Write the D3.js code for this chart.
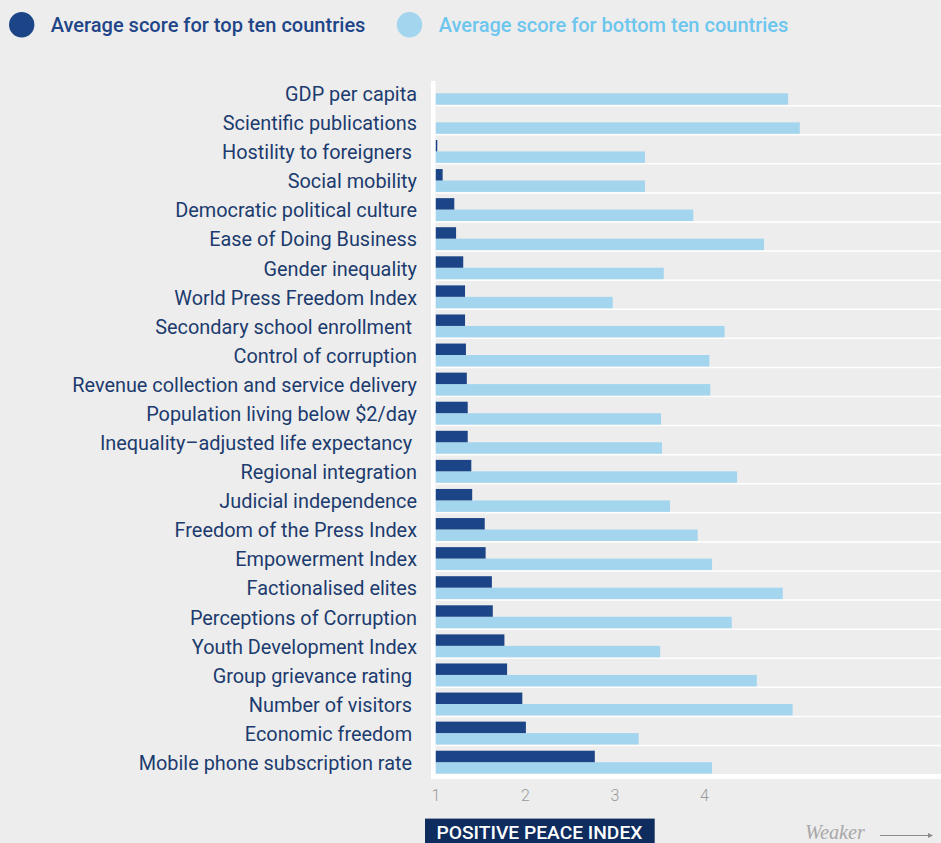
<!DOCTYPE html>
<html>
<head>
<meta charset="utf-8">
<script src="https://cdn.jsdelivr.net/npm/d3@7"></script>
<style>
  html, body { margin: 0; padding: 0; background: #ededed; }
  svg { display: block; }
  .lbl { white-space: pre; }
</style>
</head>
<body>
<svg id="chart" width="941" height="843"></svg>
<script>
const categories = [
  "GDP per capita",
  "Scientific publications",
  "Hostility to foreigners ",
  "Social mobility",
  "Democratic political culture",
  "Ease of Doing Business",
  "Gender inequality",
  "World Press Freedom Index",
  "Secondary school enrollment ",
  "Control of corruption",
  "Revenue collection and service delivery",
  "Population living below $2/day",
  "Inequality\u2013adjusted life expectancy ",
  "Regional integration",
  "Judicial independence",
  "Freedom of the Press Index",
  "Empowerment Index",
  "Factionalised elites",
  "Perceptions of Corruption",
  "Youth Development Index",
  "Group grievance rating ",
  "Number of visitors ",
  "Economic freedom ",
  "Mobile phone subscription rate "
];
const topTen = [1.0, 1.0, 1.02, 1.08, 1.21, 1.23, 1.31, 1.33, 1.33, 1.34, 1.35, 1.36,
                1.36, 1.40, 1.41, 1.55, 1.56, 1.63, 1.64, 1.77, 1.80, 1.97, 2.01, 2.78];
const bottomTen = [4.94, 5.07, 3.34, 3.34, 3.88, 4.67, 3.55, 2.98, 4.23, 4.06, 4.07, 3.52,
                   3.53, 4.37, 3.62, 3.93, 4.09, 4.88, 4.31, 3.51, 4.59, 4.99, 3.27, 4.09];
const tickValues = [1, 2, 3, 4];
const seriesNames = ["Average score for top ten countries", "Average score for bottom ten countries"];
const axisTitle = "POSITIVE PEACE INDEX";
const directionLabel = "Weaker";

const colors = { top: "#1c4587", bottom: "#a4d5ee", legendTop: "#1f4588", legendBottom: "#6cc6ee",
                 label: "#1c3b6e", tick: "#9a9a9a", box: "#0e2c5e" };

const svg = d3.select("#chart");
svg.append("rect").attr("width", 941).attr("height", 843).attr("fill", "#ededed");

const x = d3.scaleLinear().domain([1, 5]).range([435.5, 793.5]);
const y = d3.scaleBand().domain(categories).range([76, 774]);
const sub = d3.scaleBand().domain(["top", "bottom"]).range([5.8, 28.7]);

function fit(sel, target) {
  const w = sel.node().getComputedTextLength();
  const fs = parseFloat(sel.attr("font-size"));
  sel.attr("font-size", fs * target / w);
}

// legend
const legend = [
  { name: seriesNames[0], cx: 21.7, tx: 50.7, w: 315, c: colors.top, tc: colors.legendTop },
  { name: seriesNames[1], cx: 409.5, tx: 438.7, w: 350, c: colors.bottom, tc: colors.legendBottom }
];
legend.forEach(l => {
  svg.append("circle").attr("cx", l.cx).attr("cy", 24.8).attr("r", 12.7).attr("fill", l.c);
  const t = svg.append("text").attr("x", l.tx).attr("y", 31.6)
    .attr("font-family", "Roboto, sans-serif").attr("font-weight", 500)
    .attr("font-size", 19).attr("fill", l.tc).text(l.name);
  fit(t, l.w);
});

// row separators
svg.append("g").selectAll("line").data(categories.slice(1)).join("line")
  .attr("x1", 436).attr("x2", 941)
  .attr("y1", d => y(d) + 0.6).attr("y2", d => y(d) + 0.6)
  .attr("stroke", "#ffffff").attr("stroke-width", 1.5);

// bars
const rows = categories.map((c, i) => ({ c, top: topTen[i], bottom: bottomTen[i] }));
svg.append("g").selectAll("rect").data(rows).join("rect")
  .attr("x", x(1)).attr("y", d => y(d.c) + sub("bottom"))
  .attr("width", d => x(d.bottom) - x(1)).attr("height", sub.bandwidth())
  .attr("fill", colors.bottom);
svg.append("g").selectAll("rect").data(rows).join("rect")
  .attr("x", x(1)).attr("y", d => y(d.c) + sub("top"))
  .attr("width", d => Math.max(0, x(d.top) - x(1))).attr("height", sub.bandwidth())
  .attr("fill", colors.top);

// axis lines (white)
svg.append("rect").attr("x", 431).attr("y", 81).attr("width", 4.5).attr("height", 698).attr("fill", "#ffffff");
svg.append("rect").attr("x", 431).attr("y", 774).attr("width", 510).attr("height", 5).attr("fill", "#ffffff");

// category labels
const labels = svg.append("g").selectAll("text").data(categories).join("text")
  .attr("class", "lbl")
  .attr("x", 417).attr("y", d => y(d) + 25)
  .attr("text-anchor", "end")
  .attr("font-family", "Roboto, sans-serif").attr("font-size", 18)
  .attr("fill", colors.label).text(d => d);
const ref = labels.filter(d => d.startsWith("Revenue"));
const rw = ref.node().getComputedTextLength();
labels.attr("font-size", 18 * 345 / rw);

// x axis ticks
const ax = svg.append("g").attr("transform", "translate(0,779)")
  .call(d3.axisBottom(x).tickValues(tickValues).tickSize(0).tickPadding(11).tickFormat(d3.format("d")));
ax.select(".domain").remove();
ax.selectAll("text").attr("font-family", "Roboto, sans-serif").attr("font-weight", 300)
  .attr("font-size", 16).attr("fill", colors.tick);

// axis title box
svg.append("rect").attr("x", 425).attr("y", 818.6).attr("width", 229.7).attr("height", 30).attr("fill", colors.box);
const at = svg.append("text").attr("x", 436.5).attr("y", 838.6)
  .attr("font-family", "Roboto, sans-serif").attr("font-weight", 500)
  .attr("font-size", 18).attr("fill", "#ffffff").text(axisTitle);
fit(at, 206);

// direction label + arrow
const wk = svg.append("text").attr("x", 805).attr("y", 839)
  .attr("font-family", "'Liberation Serif', 'DejaVu Serif', serif").attr("font-style", "italic")
  .attr("font-size", 18).attr("fill", "#a8a8a8").text(directionLabel);
fit(wk, 60);
svg.append("line").attr("x1", 880).attr("x2", 929).attr("y1", 835.5).attr("y2", 835.5)
  .attr("stroke", "#8a8a8a").attr("stroke-width", 1);
svg.append("path").attr("d", "M928,833 L933,835.5 L928,838 Z").attr("fill", "#8a8a8a");
</script>
</body>
</html>
